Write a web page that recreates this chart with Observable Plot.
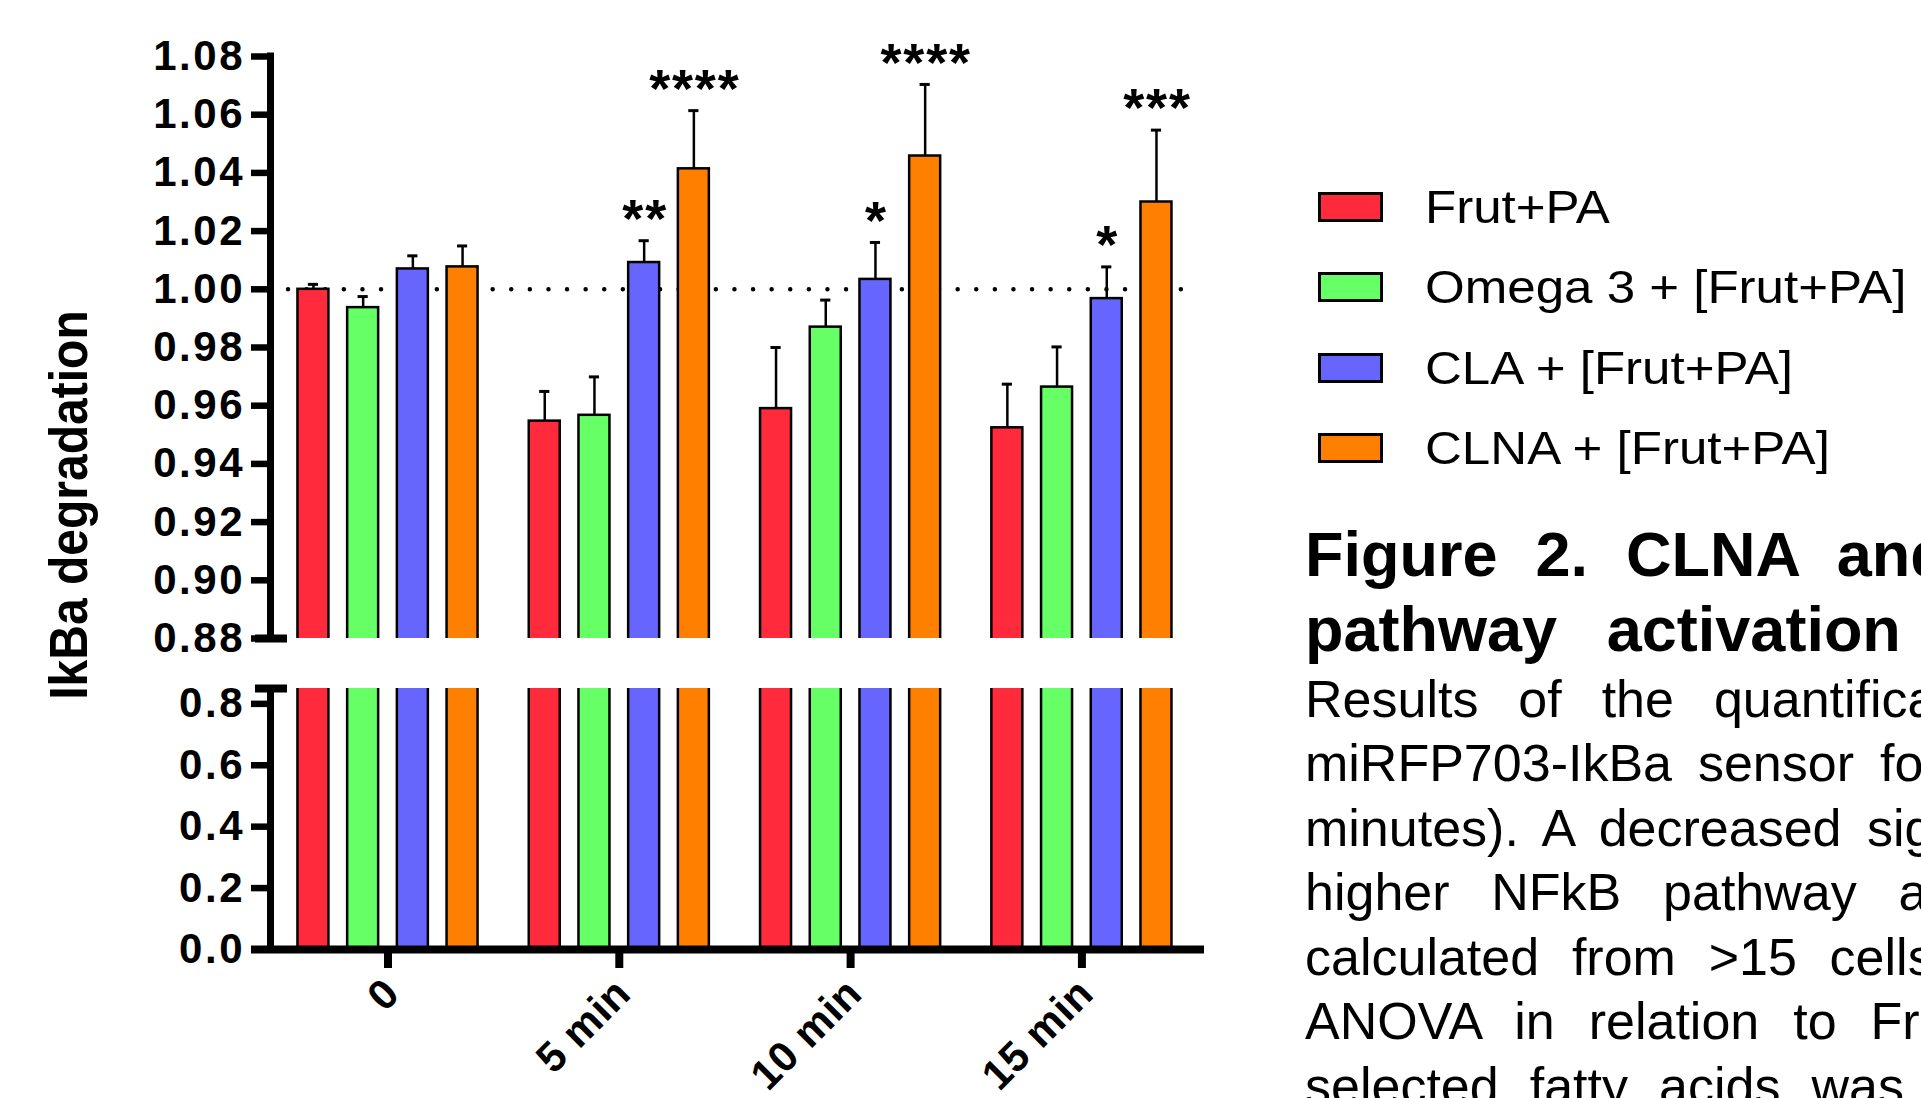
<!DOCTYPE html>
<html><head><meta charset="utf-8">
<script src="https://cdn.jsdelivr.net/npm/d3@7"></script>
<script src="https://cdn.jsdelivr.net/npm/@observablehq/plot@0.6"></script>
<style>
html,body{margin:0;padding:0;background:#fff;}
body{width:1921px;height:1098px;overflow:hidden;position:relative;font-family:"Liberation Sans",Arial,Helvetica,sans-serif;color:#000;}
#upper,#lower{position:absolute;left:0;width:1300px;}
#upper{top:0;}
#lower{top:660px;}
#ytitle{position:absolute;left:69px;top:505px;font-size:48px;font-weight:bold;line-height:1;white-space:nowrap;transform:translate(-50%,-50%) rotate(-90deg) scaleY(1.11);}
.lrow{position:absolute;left:1318px;height:40px;display:flex;align-items:center;}
.sw{box-sizing:border-box;width:65px;height:30px;border:3px solid #000;}
.lt{position:absolute;left:107px;font-size:46px;line-height:1;white-space:nowrap;transform:scaleX(1.11);transform-origin:0 50%;}
.cline{position:absolute;left:1305px;line-height:1;white-space:nowrap;}
</style></head><body>
<div id="upper"></div>
<div id="lower"></div>
<div id="ytitle">IkBa degradation</div>
<div id="legend"></div>
<div id="caption"></div>
<script>
// ---- data ----
const timepoints = ["0", "5 min", "10 min", "15 min"];
const treatments = ["Frut+PA", "Omega 3 + [Frut+PA]", "CLA + [Frut+PA]", "CLNA + [Frut+PA]"];
const colors = ["#ff2a3b", "#66ff66", "#6666ff", "#ff8000"];
const frutPA = [1.000, 0.9547, 0.959, 0.9524];
const omega3 = [0.9937, 0.9567, 0.987, 0.9664];
const cla = [1.007, 1.0092, 1.0034, 0.9968];
const clna = [1.0077, 1.0414, 1.0458, 1.030];
const semFrutPA = [0.0017, 0.0102, 0.021, 0.015];
const semOmega3 = [0.0038, 0.0132, 0.0093, 0.0138];
const semCLA = [0.0045, 0.0075, 0.0127, 0.0109];
const semCLNA = [0.0072, 0.020, 0.0246, 0.0247];
const sigFrutPA = ["", "", "", ""];
const sigOmega3 = ["", "", "", ""];
const sigCLA = ["", "**", "*", "*"];
const sigCLNA = ["", "****", "****", "***"];
const upperTicks = [0.88, 0.90, 0.92, 0.94, 0.96, 0.98, 1.00, 1.02, 1.04, 1.06, 1.08];
const lowerTicks = [0.0, 0.2, 0.4, 0.6, 0.8];
const upperDomain = [0.88, 1.08];
const lowerDomain = [0, 0.85];
const baseline = 1.0;
const yTitle = "IkBa degradation";
const captionTitle = [["Figure", "2.", "CLNA", "and"], ["pathway", "activation"]];
const captionBody = [
  ["Results", "of", "the", "quantification"],
  ["miRFP703-IkBa", "sensor", "for"],
  ["minutes).", "A", "decreased", "signal"],
  ["higher", "NFkB", "pathway", "activation"],
  ["calculated", "from", ">15", "cells"],
  ["ANOVA", "in", "relation", "to", "Frut+PA"],
  ["selected", "fatty", "acids", "was"]
];

// ---- layout ----
const W = 1300;
const XPX = 231.3;                 // px per group unit
const X_DOMAIN = [-0.508, 3.53];
const AXIS_X = X_DOMAIN[0];
const PITCH = 0.2149, BARW = 0.134, CAPW = 0.044;
const FONT = '"Liberation Sans", Arial, Helvetica, sans-serif';

const series = [frutPA, omega3, cla, clna];
const sems = [semFrutPA, semOmega3, semCLA, semCLNA];
const sigs = [sigFrutPA, sigOmega3, sigCLA, sigCLNA];
const rows = [];
timepoints.forEach((t, g) => treatments.forEach((s, k) => rows.push({
  g, k, t, s, v: series[k][g], e: sems[k][g], sig: sigs[k][g], xc: g + (k - 1.5) * PITCH
})));

const svgStyle = {fontFamily: FONT, fontSize: "42px", fontWeight: "bold", letterSpacing: "2.5px",
  background: "transparent", overflow: "visible", maxWidth: "none", color: "#000"};
const barOpts = {
  x1: d => d.xc - BARW / 2, x2: d => d.xc + BARW / 2, y1: 0, y2: "v",
  fill: d => colors[d.k], stroke: "#000", strokeWidth: 2.5, clip: true
};

const upper = Plot.plot({
  width: W, height: 660, marginLeft: 270, marginRight: W - 1204, marginTop: 56, marginBottom: 22,
  x: {domain: X_DOMAIN, axis: null},
  y: {domain: upperDomain, axis: null},
  style: svgStyle,
  marks: [
    Plot.ruleY([baseline], {x1: -0.43, x2: 3.4376, strokeWidth: 4.5, strokeDasharray: "0 18.6", strokeLinecap: "round"}),
    Plot.rect(rows, barOpts),
    Plot.ruleX(rows, {x: "xc", y1: "v", y2: d => d.v + d.e, strokeWidth: 2.5}),
    Plot.ruleY(rows, {y: d => d.v + d.e, x1: d => d.xc - CAPW / 2, x2: d => d.xc + CAPW / 2, strokeWidth: 3}),
    Plot.ruleX([AXIS_X], {y1: upperDomain[0], y2: upperDomain[1], strokeWidth: 7, strokeLinecap: "square"}),
    Plot.axisY({ticks: upperTicks, tickFormat: d3.format(".2f"), tickSize: 19, tickPadding: 6.5, strokeWidth: 6.5, label: null}),
    Plot.ruleY([upperDomain[0]], {x1: AXIS_X - 15 / XPX, x2: AXIS_X + 17 / XPX, strokeWidth: 8}),
    Plot.text(rows.filter(d => d.sig), {x: "xc", y: d => d.v + d.e, text: "sig", dy: -21, dx: 1, fontSize: 54})
  ]
});
d3.select(upper).selectAll("text").filter(function () { return /^\*+$/.test(this.textContent); })
  .attr("letter-spacing", "1.8");
document.getElementById("upper").append(upper);

const lower = Plot.plot({
  width: W, height: 438, marginLeft: 270, marginRight: W - 1204, marginTop: 28, marginBottom: 149,
  x: {domain: X_DOMAIN, axis: null},
  y: {domain: lowerDomain, axis: null},
  style: svgStyle,
  marks: [
    Plot.rect(rows, barOpts),
    Plot.ruleX([AXIS_X], {y1: lowerDomain[0], y2: lowerDomain[1], strokeWidth: 7}),
    Plot.ruleY([0], {x1: AXIS_X - 19 / XPX, x2: X_DOMAIN[1], strokeWidth: 8}),
    Plot.axisY({ticks: lowerTicks, tickFormat: d3.format(".1f"), tickSize: 19, tickPadding: 6.5, strokeWidth: 6.5, label: null}),
    Plot.ruleY([lowerDomain[1]], {x1: AXIS_X - 15 / XPX, x2: AXIS_X + 17 / XPX, strokeWidth: 8}),
    Plot.axisX({ticks: [0, 1, 2, 3], tickFormat: i => timepoints[i], tickSize: 19, tickPadding: 17,
      tickRotate: -45, strokeWidth: 8, label: null})
  ]
});
d3.select(lower).selectAll("text").filter(function () { return timepoints.includes(this.textContent); })
  .attr("letter-spacing", "0.5")
  .attr("transform", function () { return "translate(4,1) " + (this.getAttribute("transform") || ""); });
document.getElementById("lower").append(lower);

document.getElementById("ytitle").textContent = yTitle;

// ---- legend ----
const legend = document.getElementById("legend");
treatments.forEach((t, i) => {
  const row = document.createElement("div");
  row.className = "lrow";
  row.style.top = (206.7 + i * 80.5 - 20) + "px";
  const sw = document.createElement("div");
  sw.className = "sw";
  sw.style.background = colors[i];
  const lt = document.createElement("div");
  lt.className = "lt";
  lt.textContent = t;
  row.append(sw, lt);
  legend.append(row);
});

// ---- caption ----
const cap = document.getElementById("caption");
const titleFS = 63, bodyFS = 52;
const titleBase = [576.6, 651.5];
const titleWS = [20.5, 32.2];
const bodyWS = [25.5, 11.5, 11, 27.3, 18.3, 19.5, 16.6];
captionTitle.forEach((words, i) => {
  const d = document.createElement("div");
  d.className = "cline";
  d.style.fontSize = titleFS + "px";
  d.style.fontWeight = "bold";
  d.style.wordSpacing = titleWS[i] + "px";
  d.style.top = (titleBase[i] - 0.8465 * titleFS) + "px";
  d.textContent = words.join(" ");
  cap.append(d);
});
captionBody.forEach((words, i) => {
  const d = document.createElement("div");
  d.className = "cline";
  d.style.fontSize = bodyFS + "px";
  d.style.wordSpacing = bodyWS[i] + "px";
  d.style.top = (717 + i * 64.5 - 0.8465 * bodyFS) + "px";
  d.textContent = words.join(" ");
  cap.append(d);
});
</script>
</body></html>
